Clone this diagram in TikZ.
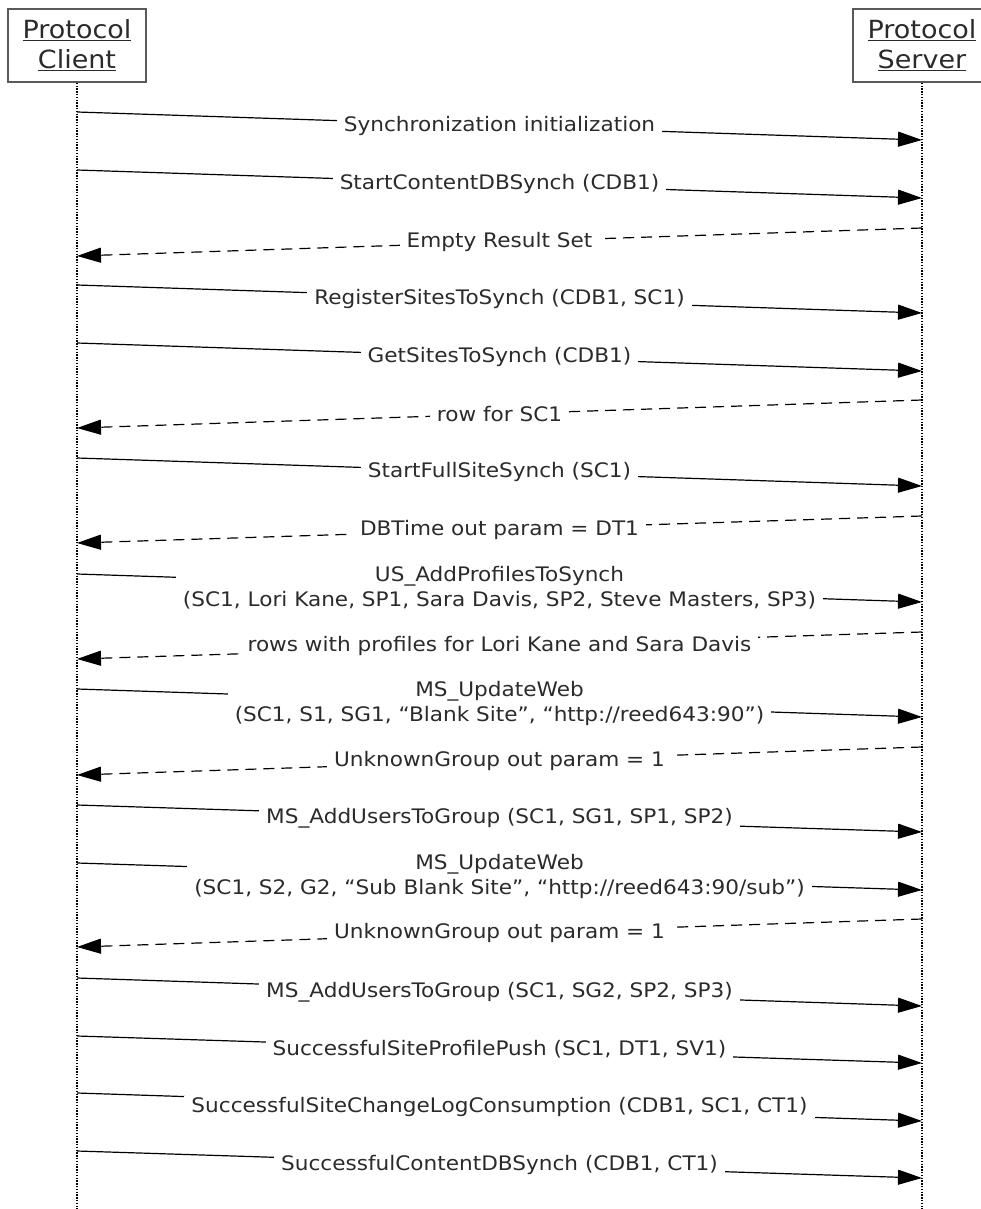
\documentclass[tikz,border=0pt]{standalone}
\usepackage{fontspec}
\setmainfont[FakeStretch=1.08]{DejaVu Sans}
\usetikzlibrary{arrows.meta, positioning}

\definecolor{inkgray}{HTML}{2B2B2B}
\definecolor{boxgray}{HTML}{5A5A5A}

\begin{document}
\begin{tikzpicture}[x=1pt, y=-1pt,
	actor/.style={draw=boxgray, line width=1.6pt, minimum width=138pt, minimum height=73pt,
		align=center, text=inkgray, font=\fontsize{25}{30}\selectfont, inner sep=0pt},
	lifeline/.style={line width=1.3pt, dash pattern=on 1.4pt off 1.4pt},
	msg/.style={line width=1.2pt, -{Triangle[length=24pt, width=15pt]}},
	reply/.style={msg, dash pattern=on 11pt off 7pt},
	lbl/.style={fill=white, text=inkgray, align=center, inner xsep=7pt, inner ysep=1pt,
		font=\fontsize{20}{25}\selectfont}]
	\useasboundingbox (0,0) rectangle (981,1209);

	\node[actor] (client) at (77,45.5) {\underline{Protocol}\\\underline{Client}};
	\node[actor] (server) at (922,45.5) {\underline{Protocol}\\\underline{Server}};
	\coordinate (clientend) at (77,1212);
	\coordinate (serverend) at (922,1212);
	\draw[lifeline] (client.south) -- (clientend);
	\draw[lifeline] (server.south) -- (serverend);

	% message end points, client side (c) and server side (s)
	\coordinate (c1) at (77,112);   \coordinate (s1) at (922,140);
	\coordinate (c2) at (77,170);   \coordinate (s2) at (922,198);
	\coordinate (c3) at (77,256);   \coordinate (s3) at (922,228);
	\coordinate (c4) at (77,285);   \coordinate (s4) at (922,313);
	\coordinate (c5) at (77,343);   \coordinate (s5) at (922,371);
	\coordinate (c6) at (77,428);   \coordinate (s6) at (922,400);
	\coordinate (c7) at (77,458);   \coordinate (s7) at (922,486);
	\coordinate (c8) at (77,543);   \coordinate (s8) at (922,516);
	\coordinate (c9) at (77,574);   \coordinate (s9) at (922,602);
	\coordinate (c10) at (77,659);  \coordinate (s10) at (922,632);
	\coordinate (c11) at (77,689);  \coordinate (s11) at (922,717);
	\coordinate (c12) at (77,775);  \coordinate (s12) at (922,747);
	\coordinate (c13) at (77,805);  \coordinate (s13) at (922,832);
	\coordinate (c14) at (77,863);  \coordinate (s14) at (922,890);
	\coordinate (c15) at (77,947);  \coordinate (s15) at (922,919);
	\coordinate (c16) at (77,978);  \coordinate (s16) at (922,1006);
	\coordinate (c17) at (77,1036); \coordinate (s17) at (922,1063);
	\coordinate (c18) at (77,1093); \coordinate (s18) at (922,1121);
	\coordinate (c19) at (77,1151); \coordinate (s19) at (922,1178);

	\draw[msg] (c1) -- node[lbl] (m1) {Synchronization initialization} (s1);
	\draw[msg] (c2) -- node[lbl] (m2) {StartContentDBSynch (CDB1)} (s2);
	\draw[reply] (s3) -- node[lbl] (m3) {Empty Result Set} (c3);
	\draw[msg] (c4) -- node[lbl] (m4) {RegisterSitesToSynch (CDB1, SC1)} (s4);
	\draw[msg] (c5) -- node[lbl] (m5) {GetSitesToSynch (CDB1)} (s5);
	\draw[reply] (s6) -- node[lbl] (m6) {row for SC1} (c6);
	\draw[msg] (c7) -- node[lbl] (m7) {StartFullSiteSynch (SC1)} (s7);
	\draw[reply] (s8) -- node[lbl] (m8) {DBTime out param = DT1} (c8);
	\draw[msg] (c9) -- node[lbl] (m9) {US\_AddProfilesToSynch\\(SC1, Lori Kane, SP1, Sara Davis, SP2, Steve Masters, SP3)} (s9);
	\draw[reply] (s10) -- node[lbl] (m10) {rows with profiles for Lori Kane and Sara Davis} (c10);
	\draw[msg] (c11) -- node[lbl] (m11) {MS\_UpdateWeb\\(SC1, S1, SG1, “Blank Site”, “http://reed643:90”)} (s11);
	\draw[reply] (s12) -- node[lbl] (m12) {UnknownGroup out param = 1} (c12);
	\draw[msg] (c13) -- node[lbl] (m13) {MS\_AddUsersToGroup (SC1, SG1, SP1, SP2)} (s13);
	\draw[msg] (c14) -- node[lbl] (m14) {MS\_UpdateWeb\\(SC1, S2, G2, “Sub Blank Site”, “http://reed643:90/sub”)} (s14);
	\draw[reply] (s15) -- node[lbl] (m15) {UnknownGroup out param = 1} (c15);
	\draw[msg] (c16) -- node[lbl] (m16) {MS\_AddUsersToGroup (SC1, SG2, SP2, SP3)} (s16);
	\draw[msg] (c17) -- node[lbl] (m17) {SuccessfulSiteProfilePush (SC1, DT1, SV1)} (s17);
	\draw[msg] (c18) -- node[lbl] (m18) {SuccessfulSiteChangeLogConsumption (CDB1, SC1, CT1)} (s18);
	\draw[msg] (c19) -- node[lbl] (m19) {SuccessfulContentDBSynch (CDB1, CT1)} (s19);
\end{tikzpicture}
\end{document}
